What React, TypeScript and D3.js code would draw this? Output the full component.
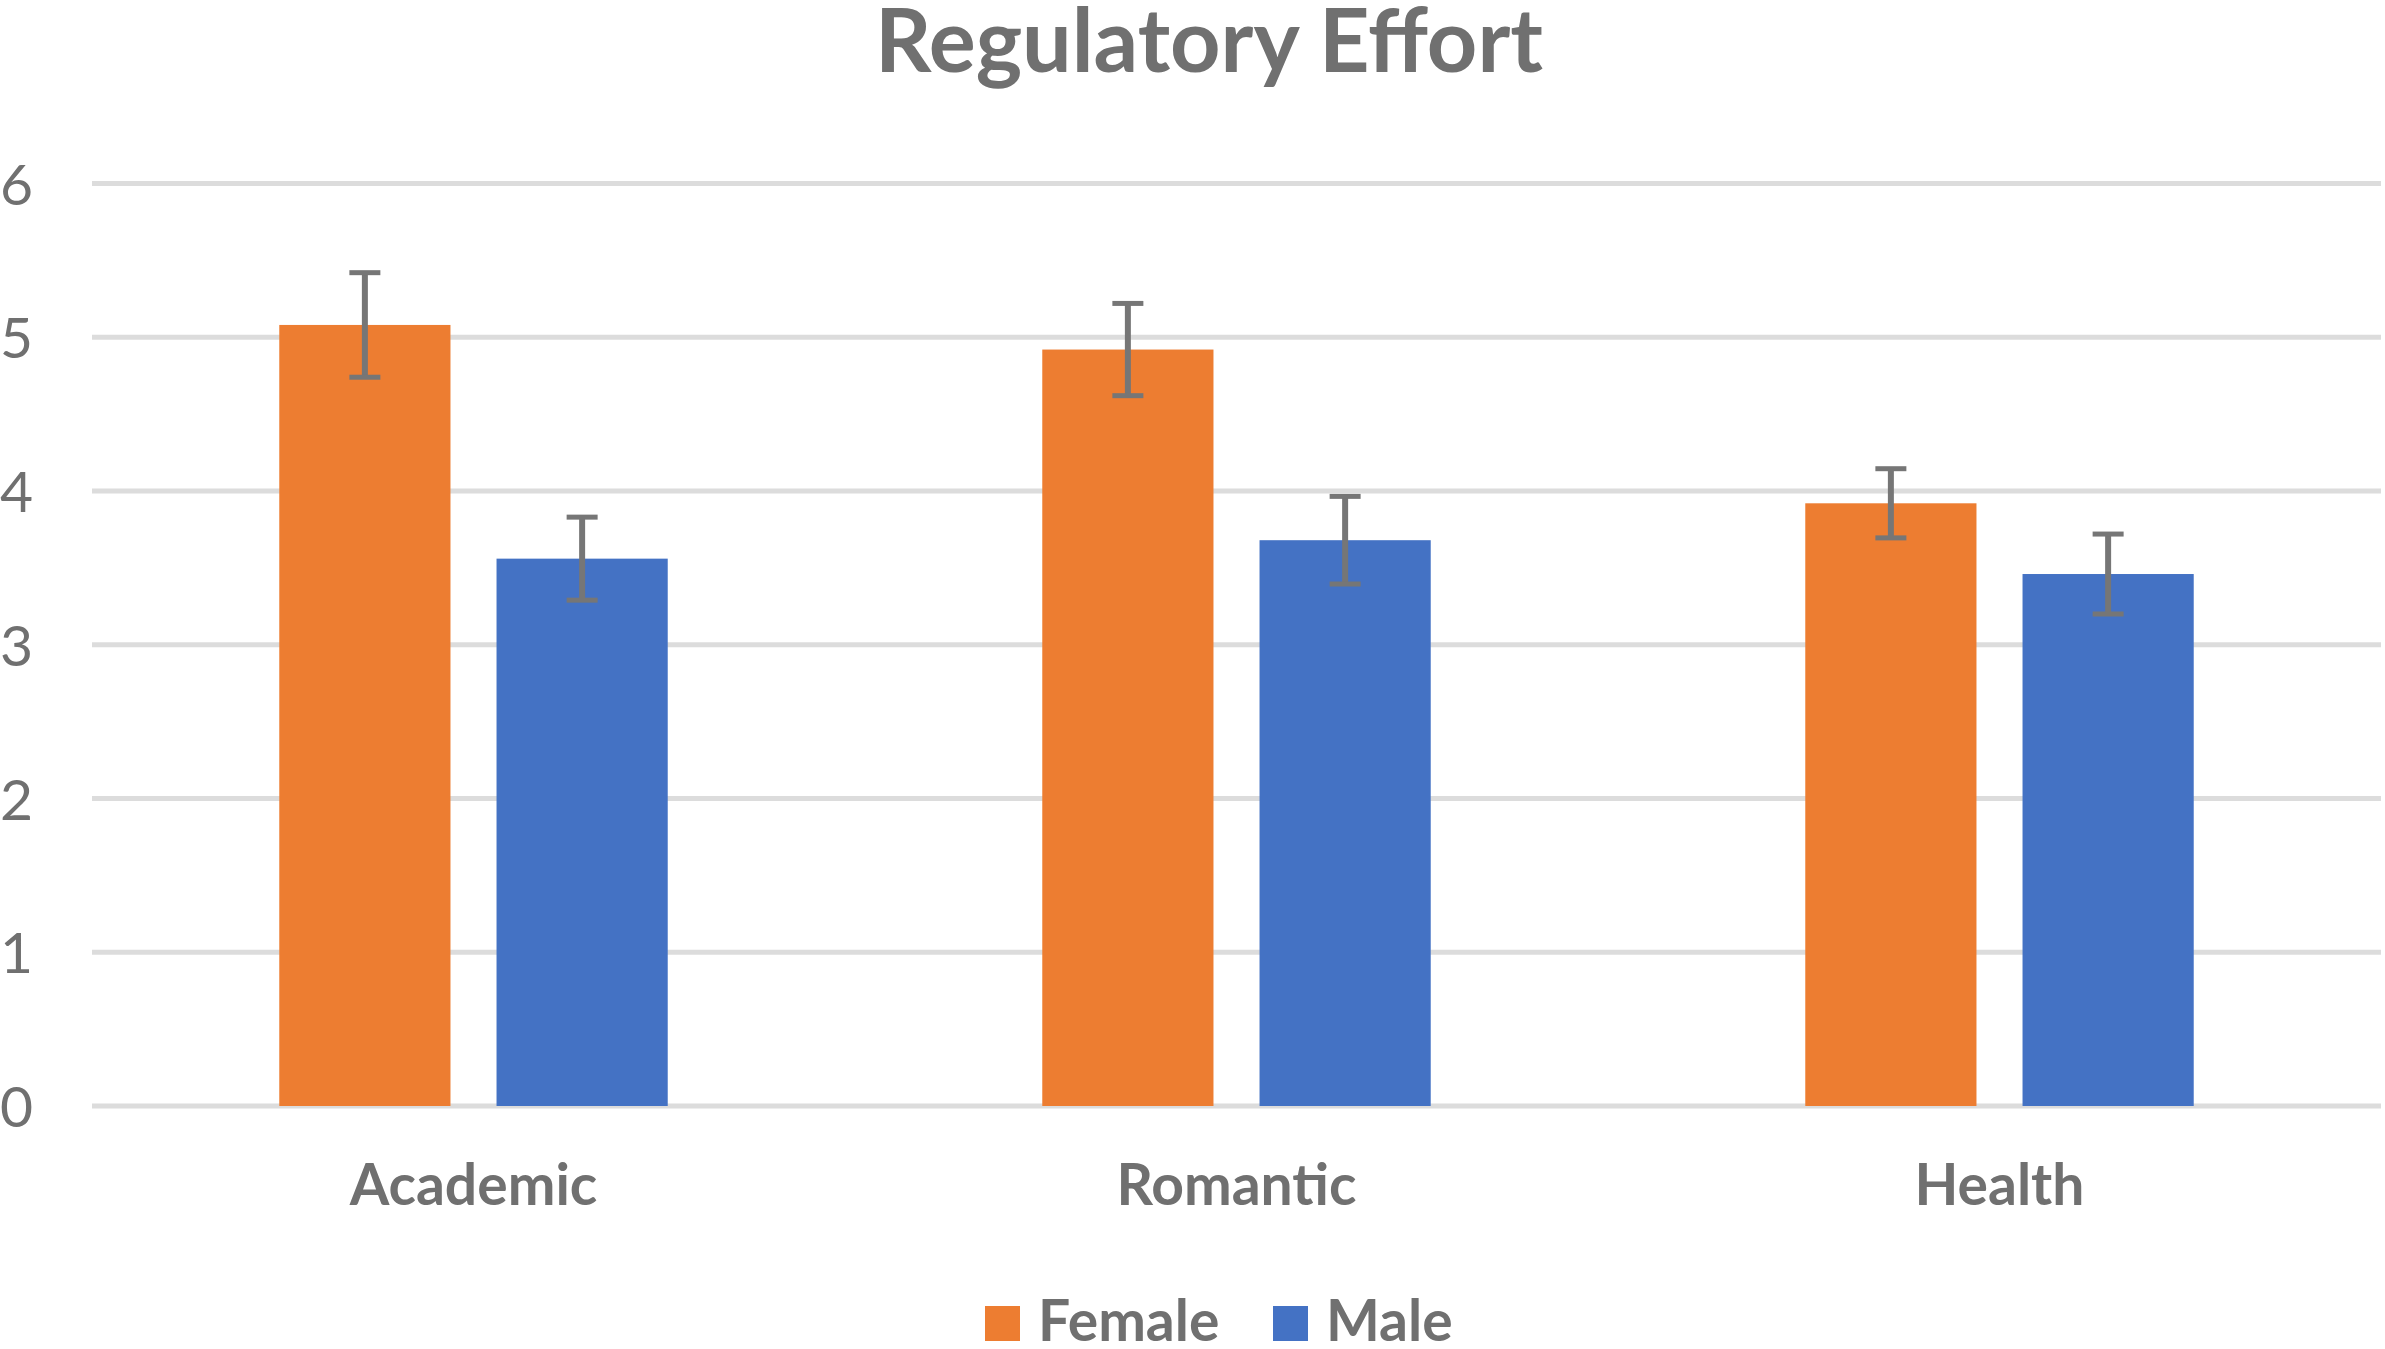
import React, { useEffect } from 'react';
import * as d3 from 'd3';

// chart data
const categories = ['Academic', 'Romantic', 'Health'];
const seriesNames = ['Female', 'Male'];
const femaleValues = [5.08, 4.92, 3.92];
const maleValues = [3.56, 3.68, 3.46];
const femaleErrors = [0.34, 0.3, 0.225];
const maleErrors = [0.27, 0.285, 0.26];
const yTicks = [0, 1, 2, 3, 4, 5, 6];

const seriesColors = ['#ED7D31', '#4472C4'];
const textColor = '#707070';
const gridColor = '#dcdcdc';
const errColor = '#767676';
const FONT = 'Lato, "Open Sans", sans-serif';

const W = 2385;
const H = 1349;

export default function App() {
  useEffect(() => {
    document.body.style.margin = '0';
  }, []);

  const x0 = d3.scaleBand().domain(categories).range([92, 2381]).paddingInner(0).paddingOuter(0);
  const x1 = d3
    .scaleBand()
    .domain(seriesNames)
    .range([0, x0.bandwidth()])
    .paddingInner(0.212)
    .paddingOuter(0.862);
  const y = d3.scaleLinear().domain([0, 6]).range([1106, 183.5]);

  const valuesBySeries = [femaleValues, maleValues];
  const errorsBySeries = [femaleErrors, maleErrors];
  const capHalf = 15.5;

  // legend layout
  const legendSwatch = 35;
  const legendX = [985, 1273];
  const legendBase = 1341;

  return (
    <svg
      width={W}
      height={H}
      style={{ position: 'absolute', left: 0, top: 0, background: '#fff' }}
      fontFamily={FONT}
    >
      <rect x={0} y={0} width={W} height={H} fill="#fff" />

      {/* title */}
      <text x={1209} y={72} textAnchor="middle" fontSize={88} fontWeight={700} fill={textColor}>
        Regulatory Effort
      </text>

      {/* gridlines */}
      {yTicks.map((t) => (
        <line key={'g' + t} x1={92} x2={2381} y1={y(t)} y2={y(t)} stroke={gridColor} strokeWidth={5} />
      ))}

      {/* y tick labels */}
      {yTicks.map((t) => (
        <text
          key={'yl' + t}
          x={33}
          y={y(t) - 1}
          textAnchor="end"
          dominantBaseline="central"
          fontSize={57}
          fill={textColor}
        >
          {t}
        </text>
      ))}

      {/* bars */}
      {categories.map((c, ci) => (
        <g key={c} transform={`translate(${x0(c)},0)`}>
          {seriesNames.map((s, si) => {
            const v = valuesBySeries[si][ci];
            return (
              <rect
                key={s}
                x={x1(s)}
                y={y(v)}
                width={x1.bandwidth()}
                height={y(0) - y(v)}
                fill={seriesColors[si]}
              />
            );
          })}
        </g>
      ))}

      {/* error bars */}
      {categories.map((c, ci) => (
        <g key={'e' + c} transform={`translate(${x0(c)},0)`}>
          {seriesNames.map((s, si) => {
            const v = valuesBySeries[si][ci];
            const e = errorsBySeries[si][ci];
            const cx = (x1(s) as number) + x1.bandwidth() / 2;
            return (
              <g key={s} stroke={errColor}>
                <line x1={cx} x2={cx} y1={y(v + e)} y2={y(v - e)} strokeWidth={6} />
                <line x1={cx - capHalf} x2={cx + capHalf} y1={y(v + e)} y2={y(v + e)} strokeWidth={5} />
                <line x1={cx - capHalf} x2={cx + capHalf} y1={y(v - e)} y2={y(v - e)} strokeWidth={5} />
              </g>
            );
          })}
        </g>
      ))}

      {/* category labels */}
      {categories.map((c) => (
        <text
          key={'cl' + c}
          x={(x0(c) as number) + x0.bandwidth() / 2}
          y={1205}
          textAnchor="middle"
          fontSize={57}
          fontWeight={700}
          fill={textColor}
        >
          {c}
        </text>
      ))}

      {/* legend */}
      {seriesNames.map((s, si) => (
        <g key={'lg' + s}>
          <rect
            x={legendX[si]}
            y={legendBase - legendSwatch}
            width={legendSwatch}
            height={legendSwatch}
            fill={seriesColors[si]}
          />
          <text x={legendX[si] + 53} y={legendBase} fontSize={57} fontWeight={700} fill={textColor}>
            {s}
          </text>
        </g>
      ))}
    </svg>
  );
}
